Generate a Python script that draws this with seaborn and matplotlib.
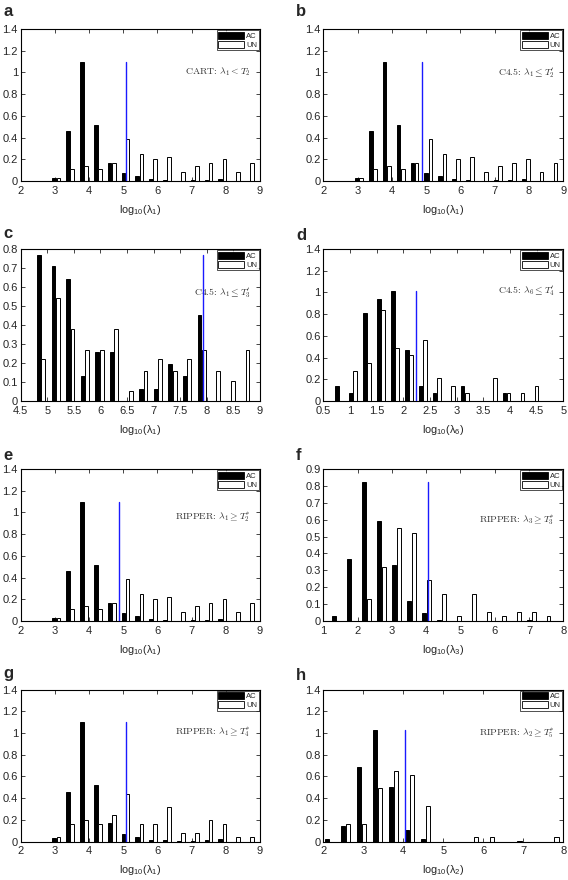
import numpy as np
import pandas as pd
import matplotlib
matplotlib.use("Agg")
import matplotlib.pyplot as plt
import seaborn as sns
from matplotlib.patches import Patch
from matplotlib.ticker import FormatStrFormatter

# ---------------- data ----------------
bins_a = [3.040, 3.445, 3.850, 4.255, 4.660, 5.065, 5.470, 5.875, 6.280, 6.685, 7.090, 7.495, 7.900, 8.305, 8.710]
ac_a = [0.03, 0.46, 1.10, 0.52, 0.17, 0.07, 0.045, 0.015, 0.01, 0.003, 0.005, 0.01, 0.02, 0.0, 0.0]
un_a = [0.03, 0.11, 0.14, 0.11, 0.17, 0.39, 0.25, 0.20, 0.22, 0.085, 0.14, 0.17, 0.20, 0.085, 0.17]

bins_c = [4.885, 5.159, 5.434, 5.708, 5.982, 6.256, 6.531, 6.805, 7.079, 7.354, 7.628, 7.902, 8.176, 8.451, 8.725]
ac_c = [0.77, 0.71, 0.64, 0.13, 0.26, 0.26, 0.0, 0.065, 0.065, 0.195, 0.13, 0.45, 0.0, 0.0, 0.0]
un_c = [0.22, 0.54, 0.38, 0.27, 0.27, 0.38, 0.055, 0.16, 0.22, 0.16, 0.22, 0.27, 0.16, 0.105, 0.27]

bins_d = [0.795, 1.057, 1.318, 1.580, 1.842, 2.104, 2.365, 2.627, 2.889, 3.150, 3.412, 3.674, 3.935, 4.197, 4.459]
ac_d = [0.14, 0.07, 0.81, 0.94, 1.01, 0.47, 0.14, 0.07, 0.0, 0.14, 0.0, 0.0, 0.07, 0.0, 0.0]
un_d = [0.0, 0.28, 0.35, 0.84, 0.49, 0.42, 0.56, 0.21, 0.14, 0.07, 0.0, 0.21, 0.07, 0.07, 0.14]

bins_f = [1.385, 1.822, 2.259, 2.696, 3.133, 3.570, 4.007, 4.444, 4.881, 5.318, 5.755, 6.192, 6.629, 7.066, 7.503]
ac_f = [0.03, 0.37, 0.825, 0.59, 0.33, 0.12, 0.045, 0.003, 0.0, 0.0, 0.0, 0.0, 0.0, 0.003, 0.0]
un_f = [0.0, 0.0, 0.13, 0.32, 0.55, 0.52, 0.24, 0.16, 0.03, 0.16, 0.055, 0.03, 0.055, 0.055, 0.03]

ac_g = [0.03, 0.46, 1.10, 0.52, 0.17, 0.065, 0.04, 0.015, 0.01, 0.003, 0.005, 0.01, 0.02, 0.0, 0.0]
un_g = [0.04, 0.16, 0.20, 0.16, 0.24, 0.44, 0.16, 0.16, 0.32, 0.08, 0.08, 0.20, 0.16, 0.04, 0.04]

bins_h = [2.155, 2.556, 2.957, 3.358, 3.759, 4.160, 4.561, 4.962, 5.363, 5.764, 6.165, 6.566, 6.967, 7.368, 7.769]
ac_h = [0.02, 0.14, 0.69, 1.03, 0.50, 0.11, 0.02, 0.0, 0.0, 0.0, 0.0, 0.0, 0.005, 0.0, 0.0]
un_h = [0.0, 0.16, 0.16, 0.49, 0.65, 0.61, 0.33, 0.0, 0.0, 0.04, 0.04, 0.0, 0.0, 0.0, 0.04]

panel_letters = ["a", "b", "c", "d", "e", "f", "g", "h"]
thresholds = [5.07, 4.87, 7.92, 2.24, 4.87, 4.05, 5.08, 4.05]
threshold_tops = [1.10, 1.10, 0.77, 1.01, 1.10, 0.825, 1.10, 1.03]
rule_labels = [
    r"CART: $\lambda_1 < T_2$",
    r"C4.5: $\lambda_1 \leq T_2^{\prime}$",
    r"C4.5: $\lambda_1 \leq T_3^{\prime}$",
    r"C4.5: $\lambda_6 \leq T_4^{\prime}$",
    r"RIPPER: $\lambda_1 \geq T_2^{*}$",
    r"RIPPER: $\lambda_3 \geq T_3^{*}$",
    r"RIPPER: $\lambda_1 \geq T_4^{*}$",
    r"RIPPER: $\lambda_2 \geq T_5^{*}$",
]
xlabel_idx = ["1", "1", "1", "6", "1", "3", "1", "2"]
series_labels = ["AC", "UN"]

panel_data = [
    (bins_a, ac_a, un_a), (bins_a, ac_a, un_a), (bins_c, ac_c, un_c), (bins_d, ac_d, un_d),
    (bins_a, ac_a, un_a), (bins_f, ac_f, un_f), (bins_a, ac_a, un_g), (bins_h, ac_h, un_h),
]
xlims = [(2, 9), (2, 9), (4.5, 9), (0.5, 5), (2, 9), (1, 8), (2, 9), (2, 8)]
xsteps = [1, 1, 0.5, 0.5, 1, 1, 1, 1]
ylims = [1.4, 1.4, 0.8, 1.4, 1.4, 0.9, 1.4, 1.4]
ysteps = [0.2, 0.2, 0.1, 0.2, 0.2, 0.1, 0.2, 0.2]
label_y = [0.72, 0.71, 0.71, 0.72, 0.68, 0.665, 0.72, 0.71]

# ---------------- style ----------------
sns.set_style("ticks")
plt.rcParams["font.family"] = ["Liberation Sans", "DejaVu Sans"]
plt.rcParams["axes.linewidth"] = 0.8
plt.rcParams["xtick.direction"] = "in"
plt.rcParams["ytick.direction"] = "in"

W, H = 568, 880
fig = plt.figure(figsize=(W / 100, H / 100), dpi=100)

lefts = [20.7, 323.3]
rows = [(29, 181), (249, 401), (469, 621), (689.5, 841.5)]
widths = [239.3, 240.0]
letter_pos = [(3, 12), (296, 12), (3, 234), (296, 235), (3, 455), (296, 455), (3, 673), (296, 675)]

for i in range(8):
    r, c = divmod(i, 2)
    top, bot = rows[r]
    ax = fig.add_axes([lefts[c] / W, 1 - bot / H, widths[c] / W, (bot - top) / H])
    bins, ac, un = panel_data[i]
    df = pd.DataFrame({
        "x": list(bins) + list(bins),
        "y": list(ac) + list(un),
        "group": [series_labels[0]] * len(bins) + [series_labels[1]] * len(bins),
    })
    sns.barplot(data=df, x="x", y="y", hue="group", hue_order=series_labels,
                native_scale=True, palette={"AC": "black", "UN": "white"},
                edgecolor="black", linewidth=0.7, width=0.6, gap=0.12,
                saturation=1, errorbar=None, legend=False, ax=ax)
    ax.plot([thresholds[i], thresholds[i]], [0, threshold_tops[i]], color="#1a1aff", lw=1.0, zorder=5)

    x0, x1 = xlims[i]
    ax.set_xlim(x0, x1)
    ax.set_ylim(0, ylims[i])
    ax.set_xticks(np.arange(x0, x1 + 1e-9, xsteps[i]))
    ax.set_yticks(np.arange(0, ylims[i] + 1e-9, ysteps[i]))
    ax.xaxis.set_major_formatter(FormatStrFormatter("%g"))
    ax.yaxis.set_major_formatter(FormatStrFormatter("%g"))
    ax.tick_params(top=True, right=True, direction="in", length=3, width=0.6,
                   labelsize=8)
    ax.tick_params(axis="x", pad=3.5)
    ax.tick_params(axis="y", pad=2)
    for sp in ax.spines.values():
        sp.set_visible(True)
        sp.set_color("black")
    ax.set_ylabel("")
    ax.set_xlabel(r"log$_{\mathregular{10}}$(λ$_{\mathregular{%s}}$)" % xlabel_idx[i],
                  fontsize=7.8, labelpad=5)

    handles = [Patch(facecolor="black", edgecolor="black", lw=0.6),
               Patch(facecolor="white", edgecolor="black", lw=0.6)]
    leg = ax.legend(handles, series_labels, loc="upper right", fontsize=5.5,
                    frameon=True, fancybox=False, edgecolor="black",
                    borderaxespad=0.15, borderpad=0.2, labelspacing=0.15,
                    handlelength=3.4, handleheight=1.0, handletextpad=0.25)
    leg.get_frame().set_linewidth(0.6)

    ax.text(0.963, label_y[i], rule_labels[i], transform=ax.transAxes,
            ha="right", va="center", fontsize=7, family=["cmr10", "DejaVu Serif"],
            math_fontfamily="cm", color="#333333")

    lx, ly = letter_pos[i]
    fig.text(lx / W, 1 - ly / H, panel_letters[i], fontsize=12, fontweight="bold",
             ha="left", va="center")

fig.savefig("out.png", dpi=100)
